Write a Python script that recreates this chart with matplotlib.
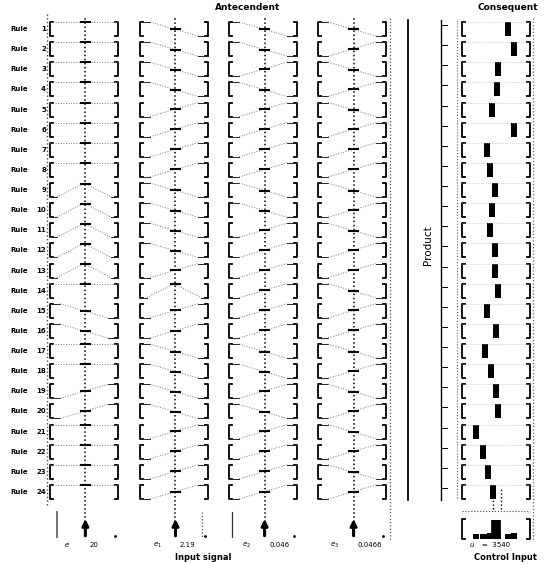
"""
Rule viewer: 24 rules, 4 inputs, product inference, singleton consequents.
"""
import numpy as np
import matplotlib.pyplot as plt
from matplotlib.lines import Line2D

W, H = 545, 564

# ---- data ----
rule_no = list(range(1, 25))

inp_names = [r'$e$', r'$e_1$', r'$e_2$', r'$e_3$']
inp_values = [20, 2.19, 0.046, 0.0466]
inp_labels = ['20', '2.19', '0.046', '0.0466']
inp_range = [(-500, 500), (-50, 50), (-1, 1), (-1, 1)]

# membership function used by each rule (N = negative, Z = zero, P = positive, F = any)
mf_e = ['F', 'F', 'F', 'F', 'F', 'F', 'F', 'F', 'Z', 'Z', 'Z', 'Z',
        'Z', 'F', 'N', 'N', 'F', 'F', 'P', 'P', 'F', 'F', 'F', 'F']
mf_de = ['N', 'N', 'N', 'N', 'P', 'P', 'P', 'P', 'N', 'N', 'N', 'N',
         'P', 'Z', 'P', 'P', 'N', 'N', 'N', 'N', 'P', 'P', 'P', 'P']
mf_ex = ['N', 'N', 'P', 'N', 'P', 'P', 'P', 'P', 'N', 'N', 'P', 'P',
         'P', 'P', 'P', 'P', 'N', 'N', 'P', 'N', 'P', 'P', 'P', 'P']
mf_ey = ['N', 'P', 'N', 'P', 'N', 'P', 'P', 'P', 'N', 'P', 'N', 'P',
         'P', 'N', 'P', 'P', 'N', 'P', 'N', 'P', 'N', 'P', 'N', 'P']

u_rule = [4735, 5350, 3705, 3600, 3090, 5350, 2575, 2880, 3400, 3090, 2880, 3400,
          3400, 3705, 2575, 3500, 2370, 2985, 3500, 3705, 1440, 2160, 2680, 3190]
w_rule = [0.16, 0.2, 0.18, 0.2, 0.17, 0.2, 0.16, 0.18, 0.2, 0.17, 0.2, 0.18,
          0.2, 0.16, 0.18, 0.2, 0.17, 0.18, 0.2, 0.2, 0.16, 0.18, 0.17, 0.2]
u_range = (0, 7000)
u_out = 3540
u_label = '3540'

mf_table = [mf_e, mf_de, mf_ex, mf_ey]

# ---- layout (pixels) ----
col_left = [50, 140, 229, 318]
col_w = 68
out_left = 462
row_top0 = 22
row_pitch = 20.13
box_h = 14
bot_top, bot_h = 512, 28

fig = plt.figure(figsize=(W / 100, H / 100), dpi=100)
fig.patch.set_facecolor('white')


def px_axes(x, y, w, h):
    ax = fig.add_axes([x / W, 1 - (y + h) / H, w / W, h / H])
    ax.axis('off')
    return ax


def vline(x, y0, y1, **kw):
    fig.add_artist(Line2D([x / W, x / W], [1 - y0 / H, 1 - y1 / H], **kw))


def bracket(ax, lw=1.3, y0=0, y1=1):
    t = 0.045
    ax.plot([t, 0, 0, t], [y0, y0, y1, y1], 'k-', lw=lw, transform=ax.transAxes, clip_on=False)
    ax.plot([1 - t, 1, 1, 1 - t], [y0, y0, y1, y1], 'k-', lw=lw, transform=ax.transAxes, clip_on=False)


def mf_points(code, lo, hi):
    w = hi - lo
    if code == 'N':
        return [lo, lo + 0.15 * w, hi - 0.15 * w, hi], [1, 1, 0, 0]
    if code == 'P':
        return [lo, lo + 0.15 * w, hi - 0.15 * w, hi], [0, 0, 1, 1]
    if code == 'Z':
        return [lo, lo + 0.1 * w, lo + 0.5 * w, hi - 0.1 * w, hi], [0, 0, 1, 0, 0]
    return [lo, hi], [1, 1]


# titles
fig.text(248 / W, 1 - 8 / H, 'Antecendent', ha='center', va='center', fontsize=6.5, weight='bold')
fig.text(508 / W, 1 - 8 / H, 'Consequent', ha='center', va='center', fontsize=6.5, weight='bold')

# continuous input lines through every column
for j in range(4):
    lo, hi = inp_range[j]
    cax = px_axes(col_left[j], 18, col_w, bot_top + bot_h - 24)
    cax.set_xlim(lo, hi)
    cax.set_ylim(0, 1)
    cax.axvline(inp_values[j], color='k', ls=':', lw=1.1)

# separators
vline(47, 14, 505, color='0.3', ls=':', lw=1.0)
vline(390, 18, 540, color='0.3', ls=':', lw=0.9)
vline(408, 20, 500, color='k', lw=1.3)
vline(441, 20, 500, color='k', lw=1.0)
vline(457, 20, 500, color='0.4', ls=':', lw=0.8)
vline(533, 18, 540, color='0.4', ls=':', lw=0.9)
fig.text(428 / W, 1 - 245 / H, 'Product', rotation=90, ha='center', va='center', fontsize=7.5)

# rule rows
for i, r in enumerate(rule_no):
    top = row_top0 + i * row_pitch
    yc = 1 - (top + box_h / 2) / H
    fig.text(10 / W, yc, 'Rule', ha='left', va='center', fontsize=5, weight='bold')
    fig.text(46 / W, yc, str(r), ha='right', va='center', fontsize=5, weight='bold')

    for j in range(4):
        lo, hi = inp_range[j]
        ax = px_axes(col_left[j], top, col_w, box_h)
        ax.set_xlim(lo, hi)
        ax.set_ylim(0, 1)
        bracket(ax)
        xs, ys = mf_points(mf_table[j][i], lo, hi)
        for k in range(len(xs) - 1):
            if ys[k] == ys[k + 1] and mf_table[j][i] != 'F':
                ax.plot(xs[k:k + 2], ys[k:k + 2], '-', color='0.15', lw=0.7, clip_on=False)
            else:
                ax.plot(xs[k:k + 2], ys[k:k + 2], ':', color='0.45', lw=0.7, clip_on=False)
        mu = np.interp(inp_values[j], xs, ys)
        d = 0.07 * (hi - lo)
        ax.plot([inp_values[j] - d, inp_values[j] + d], [mu, mu], 'k-', lw=1.5, clip_on=False)

    # product marks
    fig.add_artist(Line2D([441 / W, 447 / W], [1 - (top + 3) / H] * 2, color='k', lw=0.7))

    ax = px_axes(out_left, top, col_w, box_h)
    ax.set_xlim(*u_range)
    ax.set_ylim(0, 1)
    bracket(ax)
    ax.plot(u_range, [1, 1], ':', color='0.7', lw=0.5)
    ax.bar(u_rule[i], 1.0, width=560, color='k')

# bottom row: input arrows
for j in range(4):
    lo, hi = inp_range[j]
    ax = px_axes(col_left[j], bot_top, col_w, bot_h)
    ax.set_xlim(lo, hi)
    ax.set_ylim(0, 1)
    ax.annotate('', xy=(inp_values[j], 0.85), xytext=(inp_values[j], 0.05),
                arrowprops=dict(arrowstyle='-|>', color='k', lw=2.2, mutation_scale=9))
    ax.plot([hi - 0.05 * (hi - lo)], [0.15], 'k.', ms=2)
    y = 1 - 545 / H
    fig.text((col_left[j] + 17) / W, y, inp_names[j], ha='center', va='center', fontsize=5)
    fig.text((col_left[j] + 40) / W, y, inp_labels[j], ha='left', va='center', fontsize=5)
vline(57, 512, 537, color='0.45', lw=1.4)
vline(202, 512, 537, color='0.3', ls=':', lw=0.9)
vline(232, 512, 537, color='0.2', lw=0.9)
fig.text(203 / W, 1 - 557 / H, 'Input signal', ha='center', va='center', fontsize=6, weight='bold')

# aggregated output
ax = px_axes(out_left, bot_top, col_w, bot_h)
ax.set_xlim(*u_range)
ax.set_ylim(0, 1)
bracket(ax, y0=0.05, y1=0.75)
ax.plot(u_range, [1.05, 1.05], ':', color='0.3', lw=0.8, clip_on=False)
ax.bar(u_rule, w_rule, width=600, bottom=0.05, color='k')
ax.plot([u_out, u_out], [0.05, 0.7], 'k-', lw=7, solid_capstyle='butt')
ax.plot([u_out - 300] * 2, [1.1, 1.9], ':', color='k', lw=1.0, clip_on=False)
ax.plot([u_out + 450] * 2, [1.1, 1.9], ':', color='k', lw=1.0, clip_on=False)
fig.text(472 / W, 1 - 545 / H, r'$u$', ha='center', va='center', fontsize=5)
fig.text(482 / W, 1 - 545 / H, '=  ' + u_label, ha='left', va='center', fontsize=5)
fig.text(505 / W, 1 - 557 / H, 'Control Input', ha='center', va='center', fontsize=6, weight='bold')

plt.savefig('out.png', dpi=100, facecolor='white')
